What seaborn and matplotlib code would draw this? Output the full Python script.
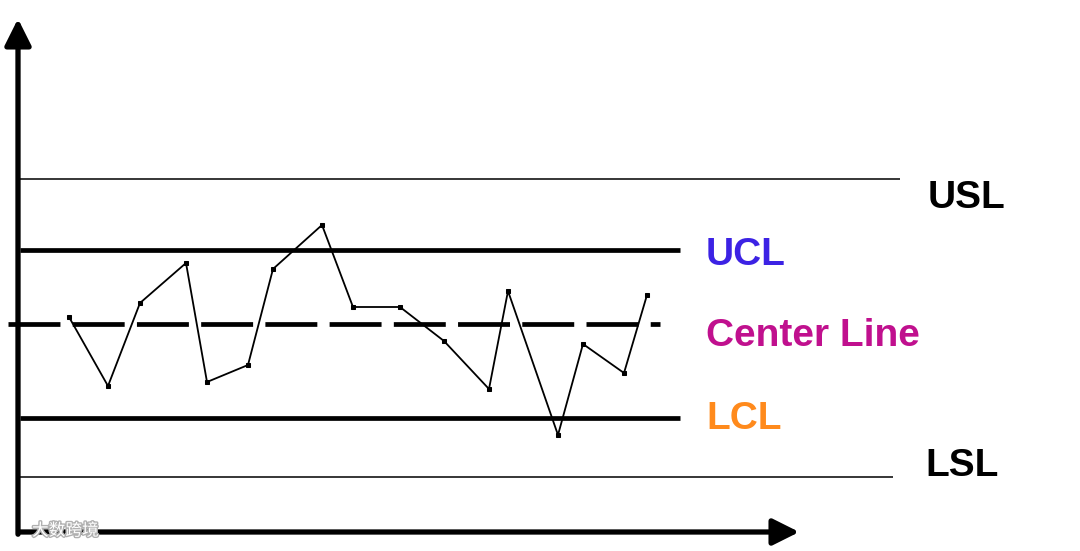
import matplotlib.pyplot as plt
import matplotlib.patheffects as pe
import seaborn as sns
import pandas as pd

# Dados (coordenadas em pixels, eixo y invertido)
amostra_x = [69, 108, 140, 186, 207, 248, 273, 322, 353, 400, 444, 489, 508, 558, 583, 624, 647]
amostra_y = [317, 386, 303, 263, 382, 365, 269, 225, 307, 307, 341, 389, 291, 435, 344, 373, 295]

# Linhas de referência: nome, nível y, início, fim
nomes_linhas = ['USL', 'UCL', 'Center Line', 'LCL', 'LSL']
niveis_linhas = [179, 250, 324, 418, 477]
inicio_linhas = [20, 20, 8, 20, 20]
fim_linhas = [900, 680, 660, 680, 893]

# Rótulos
rotulo_x = [928, 706, 706, 706, 925]
rotulo_y = [198, 255, 336, 419, 466]
cores_rotulos = ['black', '#3C22E4', '#C0108E', '#FF8A1C', 'black']

dados = pd.DataFrame({'x': amostra_x, 'y': amostra_y})

sns.set_style('white')
plt.rcParams['font.family'] = ['Liberation Sans', 'Noto Sans CJK SC', 'DejaVu Sans']

fig = plt.figure(figsize=(10.8, 5.51), dpi=100)
ax = fig.add_axes([0, 0, 1, 1])
ax.set_xlim(0, 1080)
ax.set_ylim(551, 0)
ax.axis('off')

# Linhas de controle e especificação
estilos = {
    'USL': dict(lw=1.1, ls='-'),
    'UCL': dict(lw=3.4, ls='-'),
    'Center Line': dict(lw=3.4, ls=(0, (11.0, 2.6))),
    'LCL': dict(lw=3.4, ls='-'),
    'LSL': dict(lw=1.1, ls='-'),
}
for nome, nivel, x0, x1 in zip(nomes_linhas, niveis_linhas, inicio_linhas, fim_linhas):
    ax.plot([x0, x1], [nivel, nivel], color='black', solid_capstyle='butt',
            dash_capstyle='butt', **estilos[nome])

# Série de dados
sns.lineplot(data=dados, x='x', y='y', ax=ax, color='black', linewidth=1.3,
             marker='s', markersize=2.2, markeredgecolor='black', sort=False)

# Eixos com setas
seta = dict(arrowstyle='-|>,head_length=0.8,head_width=0.4',
            lw=3.8, color='black', mutation_scale=20)
ax.annotate('', xy=(18, 16), xytext=(18, 537), arrowprops=seta)
ax.annotate('', xy=(802, 532), xytext=(16, 532), arrowprops=seta)

# Rótulos das linhas
for nome, x, y, cor in zip(nomes_linhas, rotulo_x, rotulo_y, cores_rotulos):
    ax.text(x, y, nome, color=cor, fontsize=28, fontweight='bold',
            ha='left', va='center')

# Marca d'água
ax.text(32, 531, '大数跨境', color='white', fontsize=12, ha='left', va='center',
        family=['Noto Sans CJK SC', 'DejaVu Sans'],
        path_effects=[pe.withStroke(linewidth=2, foreground='#b0b0b0')])

fig.savefig('out.png', dpi=100)
